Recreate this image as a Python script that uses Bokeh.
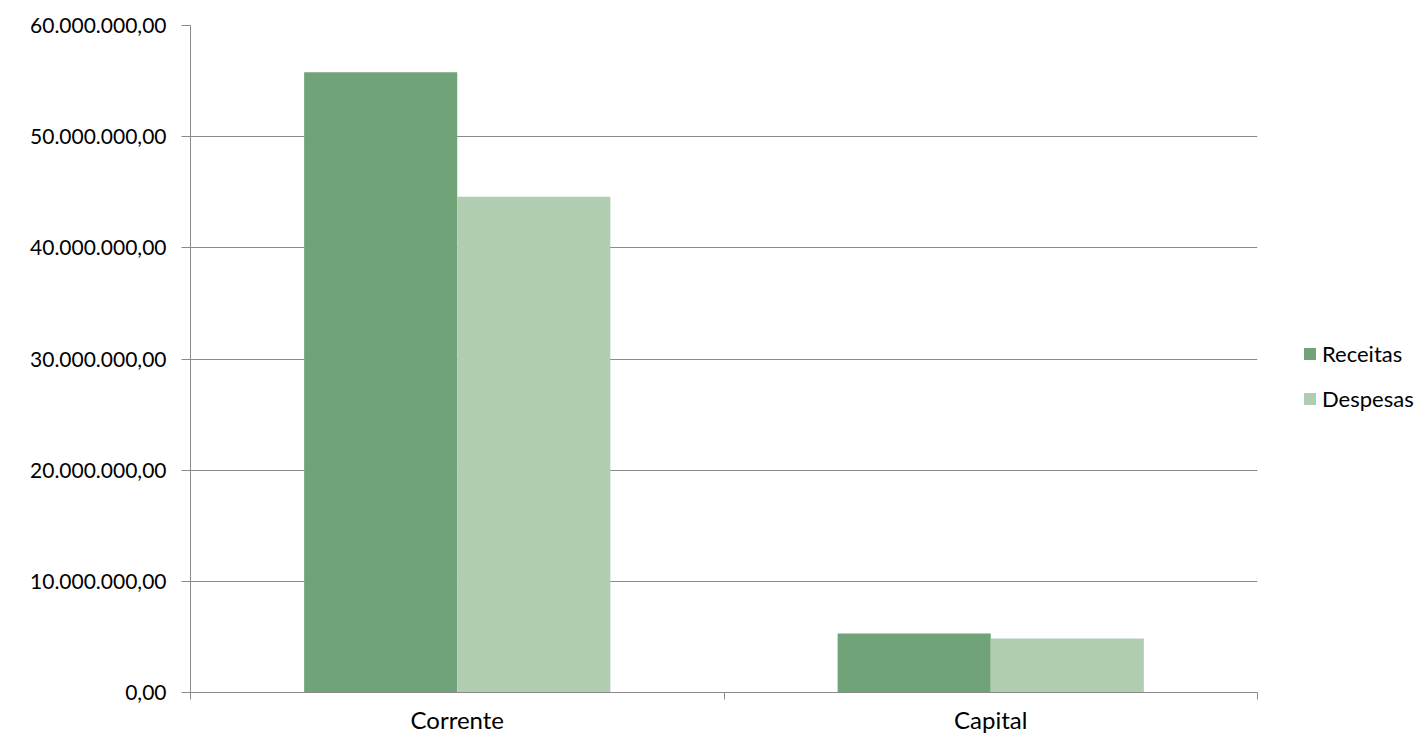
from bokeh.plotting import figure
from bokeh.layouts import row
from bokeh.models import Range1d, FixedTicker, Legend, LegendItem, ColumnDataSource
from bokeh.embed import file_html
from bokeh.resources import INLINE

categories = ["Corrente", "Capital"]
receitas = [55800000, 5300000]
despesas = [44600000, 4850000]
series_names = ["Receitas", "Despesas"]
colors = ["#71A378", "#B0CDB1"]
y_ticks = [0, 10000000, 20000000, 30000000, 40000000, 50000000, 60000000]
y_tick_labels = ["0,00", "10.000.000,00", "20.000.000,00", "30.000.000,00",
                 "40.000.000,00", "50.000.000,00", "60.000.000,00"]

FONT = "Lato"
GRID = "#8A8A8A"
H = 738

p = figure(width=1270, height=H, output_backend="svg", toolbar_location=None,
           x_range=Range1d(0, len(categories)), y_range=Range1d(0, 60000000),
           min_border_left=190, min_border_right=13, min_border_top=25,
           min_border_bottom=H - 692)
p.outline_line_color = None
p.background_fill_color = "white"
p.border_fill_color = "white"

centers = [i + 0.5 for i in range(len(categories))]
bw = 0.287
src = ColumnDataSource(dict(
    xr=[c - bw / 2 for c in centers], xd=[c + bw / 2 for c in centers],
    rec=receitas, des=despesas))
r1 = p.vbar(x="xr", top="rec", width=bw, bottom=0, source=src,
            fill_color=colors[0], line_color=None)
r2 = p.vbar(x="xd", top="des", width=bw, bottom=0, source=src,
            fill_color=colors[1], line_color=None)

# y axis
p.yaxis.ticker = FixedTicker(ticks=y_ticks, minor_ticks=[])
p.yaxis.major_label_overrides = {t: l for t, l in zip(y_ticks, y_tick_labels)}
p.yaxis.axis_line_color = GRID
p.yaxis.major_tick_line_color = GRID
p.yaxis.major_tick_out = 9
p.yaxis.major_tick_in = 0
p.yaxis.minor_tick_line_color = None
p.yaxis.major_label_standoff = 15
p.yaxis.major_label_text_font = FONT
p.yaxis.major_label_text_font_size = "21px"
p.yaxis.major_label_text_color = "black"

# x axis
p.xaxis.ticker = FixedTicker(ticks=centers, minor_ticks=list(range(len(categories) + 1)))
p.xaxis.major_label_overrides = {c: n for c, n in zip(centers, categories)}
p.xaxis.axis_line_color = GRID
p.xaxis.major_tick_line_color = None
p.xaxis.major_tick_out = 0
p.xaxis.major_tick_in = 0
p.xaxis.minor_tick_line_color = GRID
p.xaxis.minor_tick_out = 7
p.xaxis.minor_tick_in = 0
p.xaxis.major_label_standoff = 5
p.xaxis.major_label_text_font = FONT
p.xaxis.major_label_text_font_size = "24px"
p.xaxis.major_label_text_color = "black"

p.xgrid.grid_line_color = None
p.ygrid.grid_line_color = GRID
p.ygrid.grid_line_width = 1

# legend panel (separate figure to the right so it is not clipped)
lg = figure(width=149, height=H, output_backend="svg", toolbar_location=None,
            x_range=Range1d(0, 1), y_range=Range1d(0, 1),
            x_axis_location=None, y_axis_location=None,
            min_border_left=0, min_border_right=0, min_border_top=25,
            min_border_bottom=H - 692, outline_line_color=None)
lg.grid.visible = False
lg.border_fill_color = "white"
lg.background_fill_color = "white"
# zero-height proxy renderers (only used for legend swatches)
e1 = lg.vbar(x=[0.5], top=[0], bottom=0, width=0.1, fill_color=colors[0], line_color=None)
e2 = lg.vbar(x=[0.5], top=[0], bottom=0, width=0.1, fill_color=colors[1], line_color=None)

legend = Legend(items=[LegendItem(label=series_names[0], renderers=[e1]),
                       LegendItem(label=series_names[1], renderers=[e2])],
                location=(32, 280), orientation="vertical",
                padding=0, margin=0, spacing=18,
                glyph_width=15, glyph_height=15, label_standoff=5,
                label_height=22, label_text_font=FONT, label_text_font_size="22px",
                label_text_color="black",
                border_line_color=None, background_fill_alpha=0)
lg.add_layout(legend, "center")

layout = row(p, lg)
open("out.html", "w").write(file_html(layout, INLINE))
